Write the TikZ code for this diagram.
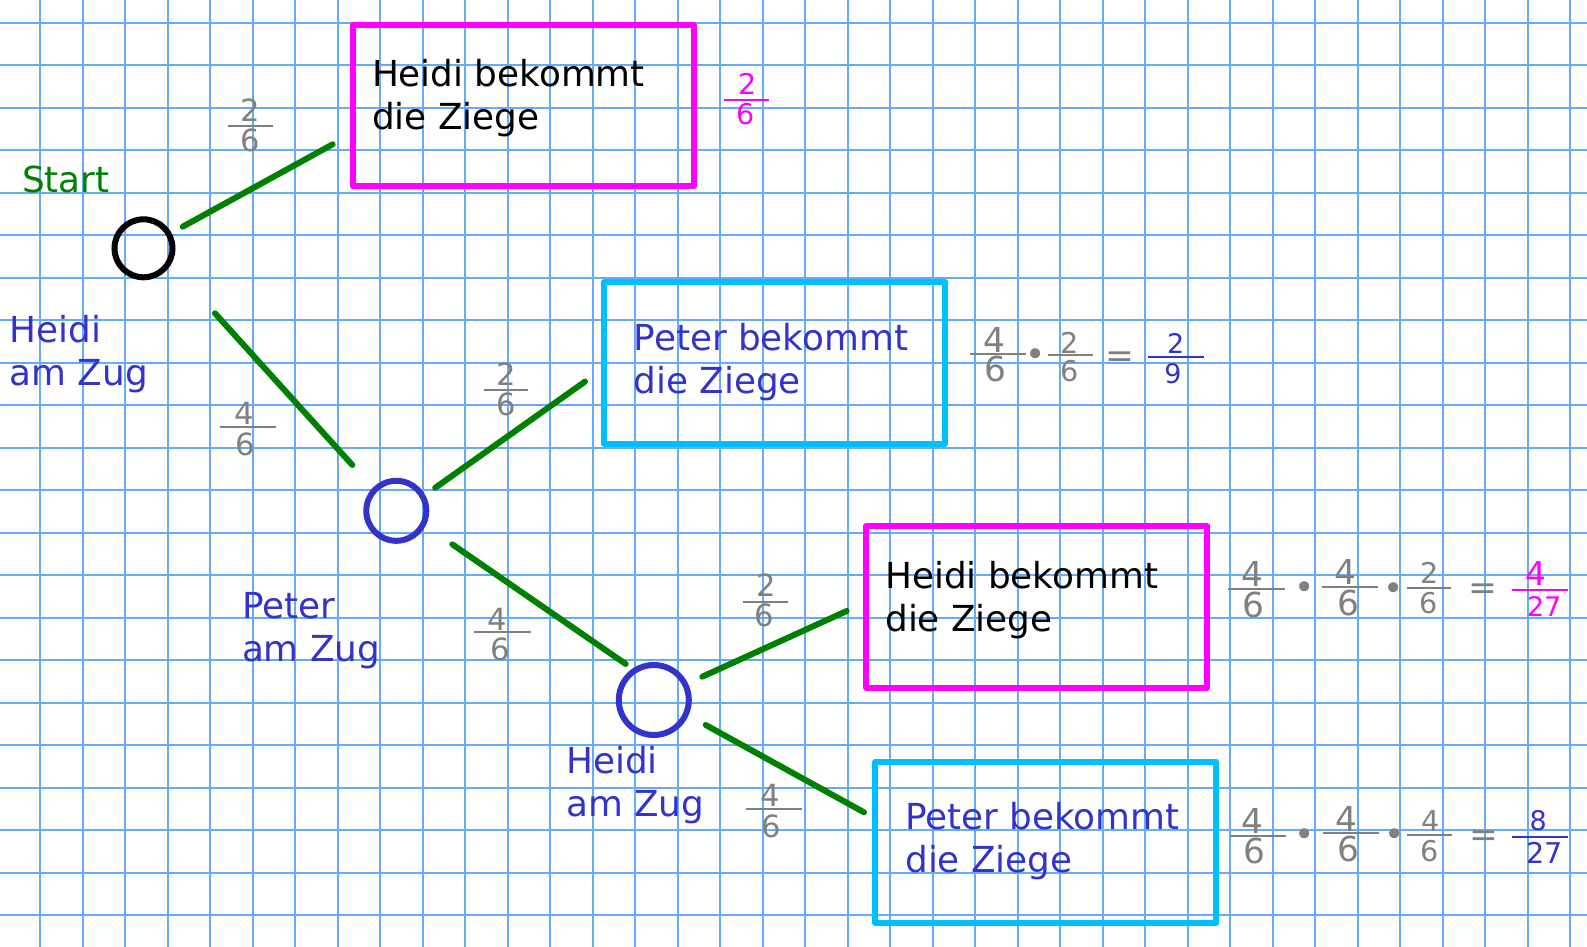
\documentclass[tikz,border=0pt]{standalone}
\usepackage{fontspec}
\setmainfont{DejaVu Sans}
\definecolor{gridblue}{RGB}{100,172,250}
\definecolor{treegreen}{RGB}{0,128,0}
\definecolor{hmag}{RGB}{255,0,255}
\definecolor{pcyan}{RGB}{0,191,255}
\definecolor{pblue}{RGB}{51,51,204}
\definecolor{fgray}{RGB}{128,128,128}
\newcommand\myfs[2]{\fontsize{#1pt}{#2pt}\selectfont}
\tikzset{
  gridline/.style={draw=gridblue, line width=1pt},
  branch/.style={draw=treegreen, line width=3pt, line cap=round},
  ring/.style={circle, draw, line width=3pt, inner sep=0pt},
  outcome/.style={rectangle, draw, line width=3pt, line join=round, minimum width=170.5pt, minimum height=80.6pt, inner sep=0pt},
  lbl/.style={anchor=base west, inner sep=0pt, align=left, font=\myfs{17.9}{21.5}},
  fbar/.style={line width=1.1pt},
  dg/.style={anchor=base, inner sep=0pt},
  big/.style={font=\myfs{17.2}{17.2}},
  mid/.style={font=\myfs{15.3}{15.3}},
  sml/.style={font=\myfs{14.3}{14.3}},
  tiny/.style={font=\myfs{13.5}{13.5}},
}
\begin{document}
\begin{tikzpicture}[x=0.5pt,y=-0.5pt]
\useasboundingbox (0,0) rectangle (1587,947);
\fill[white] (0,0) rectangle (1587,947);
% grid
\foreach \i in {0,...,36} \draw[gridline] ({40+42.5*\i},0) -- ({40+42.5*\i},947);
\foreach \j in {0,...,21} \draw[gridline] (0,{22.7+42.5*\j}) -- (1587,{22.7+42.5*\j});

% circles
\node[ring, draw=black, minimum size=29pt] (s) at (143.5,248.3) {};
\node[ring, draw=pblue, minimum size=30pt] (p) at (396.3,510.8) {};
\node[ring, draw=pblue, minimum size=35pt] (h) at (653.8,700) {};

% boxes
\node[outcome, draw=hmag] (b1) at (523.2,105.9) {};
\node[outcome, draw=pcyan] (b2) at (774.7,363) {};
\node[outcome, draw=hmag] (b3) at (1036.8,606.9) {};
\node[outcome, draw=pcyan] (b4) at (1045.9,842.5) {};

% box texts (anchor = baseline of last line)
\node[lbl, text=black] (t1) at (371.6,130) {Heidi bekommt\\die Ziege};
\node[lbl, text=pblue] (t2) at (633.3,393.3) {Peter bekommt\\die Ziege};
\node[lbl, text=black] (t3) at (884.9,631.7) {Heidi bekommt\\die Ziege};
\node[lbl, text=pblue] (t4) at (904.9,872.7) {Peter bekommt\\die Ziege};

% labels
\node[lbl, text=treegreen] (start) at (21.7,193) {Start};
\node[lbl, text=pblue] (l1) at (9.3,385.7) {Heidi\\am Zug};
\node[lbl, text=pblue] (l2) at (241.6,661.7) {Peter\\am Zug};
\node[lbl, text=pblue] (l3) at (565.9,816) {Heidi\\am Zug};

% branch end points
\coordinate (e1a) at (182.7,226.7); \coordinate (e1b) at (332.7,144.3);
\coordinate (e2a) at (215,313.3);   \coordinate (e2b) at (352.3,465);
\coordinate (e3a) at (435.2,487.8); \coordinate (e3b) at (585,381.6);
\coordinate (e4a) at (452.3,544.3); \coordinate (e4b) at (625.7,664);
\coordinate (e5a) at (702.3,676.7); \coordinate (e5b) at (846.7,611);
\coordinate (e6a) at (705.7,725);   \coordinate (e6b) at (864,812.3);
\draw[branch] (e1a) -- (e1b);
\draw[branch] (e2a) -- (e2b);
\draw[branch] (e3a) -- (e3b);
\draw[branch] (e4a) -- (e4b);
\draw[branch] (e5a) -- (e5b);
\draw[branch] (e6a) -- (e6b);

% branch fractions
\begin{scope}[text=fgray]
\draw[fbar, fgray] (227.7,126) -- (272.7,126);
\node[dg, mid] (f1n) at (250,121.7) {2}; \node[dg, mid] (f1d) at (250,151.7) {6};
\draw[fbar, fgray] (220,426.7) -- (276,426.7);
\node[dg, mid] (f2n) at (244,424) {4}; \node[dg, mid] (f2d) at (245.3,455) {6};
\draw[fbar, fgray] (483.8,389.7) -- (528.3,389.7);
\node[dg, mid] (f3n) at (506,385.4) {2}; \node[dg, mid] (f3d) at (506,415.4) {6};
\draw[fbar, fgray] (474.3,632.3) -- (531,632.3);
\node[dg, mid] (f4n) at (497,630) {4}; \node[dg, mid] (f4d) at (500.5,660) {6};
\draw[fbar, fgray] (743.3,602.3) -- (788.3,602.3);
\node[dg, mid] (f5n) at (766.7,596.7) {2}; \node[dg, mid] (f5d) at (764.5,626.7) {6};
\draw[fbar, fgray] (746,809) -- (802.3,809);
\node[dg, mid] (f6n) at (769.8,806.7) {4}; \node[dg, mid] (f6d) at (771,837) {6};
\end{scope}

% result 1
\draw[fbar, hmag] (724,100) -- (769,100);
\node[dg, sml, text=hmag] (r1n) at (748,95) {2};
\node[dg, sml, text=hmag] (r1d) at (746,125) {6};

% result 2
\begin{scope}[text=fgray]
\draw[fbar, fgray] (970,354) -- (1026,354);
\node[dg, big] (a1n) at (994.7,352.3) {4}; \node[dg, big] (a1d) at (995.3,381.7) {6};
\node[dg, big] (a1m) at (1035.7,366) {•};
\draw[fbar, fgray] (1048.3,355) -- (1092.7,355);
\node[dg, sml] (a2n) at (1070,353.3) {2}; \node[dg, sml] (a2d) at (1069.5,381) {6};
\node[dg, big] (a2e) at (1120,367) {=};
\end{scope}
\draw[fbar, pblue] (1148.3,357.3) -- (1204.3,357.3);
\node[dg, tiny, text=pblue] (a3n) at (1175.7,353.3) {2};
\node[dg, tiny, text=pblue] (a3d) at (1173,383.3) {9};

% result 3
\begin{scope}[text=fgray]
\draw[fbar, fgray] (1228.3,589) -- (1285,589);
\node[dg, big] (c1n) at (1252.5,586.7) {4}; \node[dg, big] (c1d) at (1253.8,617.3) {6};
\node[dg, big] (c1m) at (1304.3,599.5) {•};
\draw[fbar, fgray] (1322.3,587.3) -- (1378.3,587.3);
\node[dg, big] (c2n) at (1345.8,584) {4}; \node[dg, big] (c2d) at (1348.3,615) {6};
\node[dg, big] (c2m) at (1393.3,600.2) {•};
\draw[fbar, fgray] (1406.7,588.3) -- (1450.7,588.3);
\node[dg, sml] (c3n) at (1429.5,583.3) {2}; \node[dg, sml] (c3d) at (1428.7,613.3) {6};
\node[dg, big] (c3e) at (1483.3,599.3) {=};
\end{scope}
\draw[fbar, hmag] (1511.7,590) -- (1567.7,590);
\node[dg, font=\myfs{16.4}{16.4}, text=hmag] (c4n) at (1536.3,585) {4};
\node[dg, tiny, text=hmag] (c4d) at (1544.2,616) {27};

% result 4
\begin{scope}[text=fgray]
\draw[fbar, fgray] (1230,835.7) -- (1285.7,835.7);
\node[dg, big] (d1n) at (1252.5,833) {4}; \node[dg, big] (d1d) at (1254.2,863.3) {6};
\node[dg, big] (d1m) at (1305,846.2) {•};
\draw[fbar, fgray] (1323.3,833.3) -- (1379,833.3);
\node[dg, big] (d2n) at (1346.7,831) {4}; \node[dg, big] (d2d) at (1348,861.7) {6};
\node[dg, big] (d2m) at (1394.3,846.9) {•};
\draw[fbar, fgray] (1407.3,835) -- (1451.7,835);
\node[dg, sml] (d3n) at (1430.8,831.7) {4}; \node[dg, sml] (d3d) at (1430,861) {6};
\node[dg, big] (d3e) at (1484.2,846.1) {=};
\end{scope}
\draw[fbar, pblue] (1512.3,836.7) -- (1568.3,836.7);
\node[dg, tiny, text=pblue] (d4n) at (1538.3,830) {8};
\node[dg, sml, text=pblue] (d4d) at (1544.7,863.3) {27};
\end{tikzpicture}
\end{document}
